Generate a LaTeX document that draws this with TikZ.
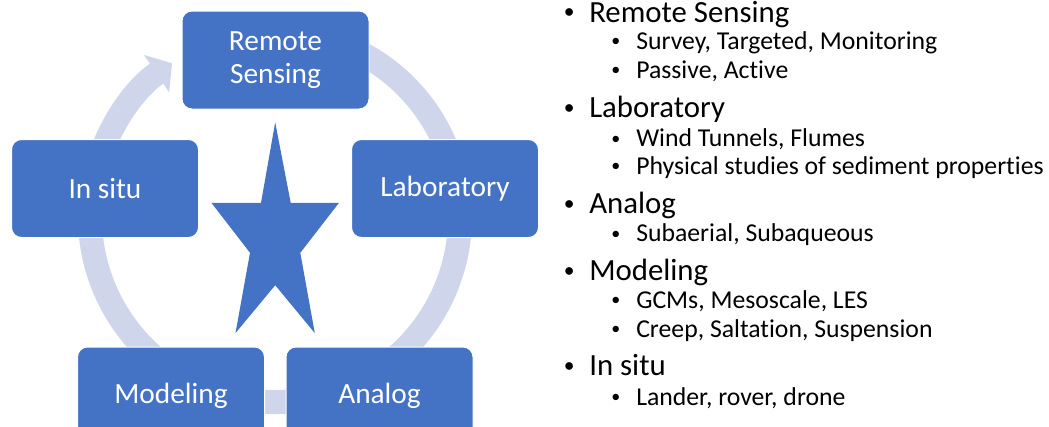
\documentclass[tikz,border=0pt]{standalone}
\usepackage{fontspec}
\setmainfont{Carlito}[Ligatures=NoCommon]
\usetikzlibrary{arrows.meta}
\definecolor{boxblue}{HTML}{4472C4}
\definecolor{ringblue}{HTML}{CFD5EA}

\begin{document}
\begin{tikzpicture}[x=0.75pt, y=-0.75pt,
    box/.style={draw=white, line width=0.75pt, fill=boxblue, rounded corners=7.5pt,
        minimum width=140.25pt, minimum height=73.5pt, inner sep=0pt,
        text=white, align=center, font=\fontsize{22}{24.5}\selectfont},
    ring/.style={draw=ringblue, line width=18pt, -{Triangle[length=14pt, width=33pt]}},
    lvlone/.style={anchor=base west, inner sep=0pt, font=\fontsize{23.1}{27}\selectfont,
        execute at begin node={\llap{\raisebox{0.1em}{\scalebox{0.7}{\textbullet}}\hspace{11pt}}}},
    lvltwo/.style={anchor=base west, inner sep=0pt, font=\fontsize{19.3}{23}\selectfont,
        execute at begin node={\llap{\raisebox{0.1em}{\scalebox{0.7}{\textbullet}}\hspace{12pt}}}}]
    \useasboundingbox (0,0) rectangle (1049,426);
    % Draw cycle ring
    \coordinate (ctr) at (275,217);
    \draw [ring] ([shift={(-75:185)}]ctr) arc [start angle=-75, end angle=236.2, radius=185];
    % Draw boxes
    \node [box] (rs) at (275.5,60) {Remote\\Sensing};
    \node [box] (lab) at (445,188.5) {Laboratory};
    \node [box] (ana) at (379.5,396) {Analog};
    \node [box] (mod) at (171,396) {Modeling};
    \node [box] (ins) at (105,188.5) {In situ};
    \fill [boxblue] (275.2,122.4) -- (290.7,202.8) -- (339,202.8) -- (300.3,252.8)
        -- (314.8,333.1) -- (275.2,285.2) -- (235.5,333.1) -- (250,252.8)
        -- (211.4,202.8) -- (261,202.8) -- cycle;
    % Draw list
    \node [lvlone] (lrs) at (589,22) {Remote Sensing};
    \node [lvltwo] (lrsa) at (636,49.3) {Survey, Targeted, Monitoring};
    \node [lvltwo] (lrsb) at (636,78.3) {Passive, Active};
    \node [lvlone] (llab) at (589,117.3) {Laboratory};
    \node [lvltwo] (llaba) at (636,146.7) {Wind Tunnels, Flumes};
    \node [lvltwo] (llabb) at (636,174.3) {Physical studies of sediment properties};
    \node [lvlone] (lana) at (589,213.3) {Analog};
    \node [lvltwo] (lanaa) at (636,241.7) {Subaerial, Subaqueous};
    \node [lvlone] (lmod) at (589,280.7) {Modeling};
    \node [lvltwo] (lmoda) at (636,308.3) {GCMs, Mesoscale, LES};
    \node [lvltwo] (lmodb) at (636,337.3) {Creep, Saltation, Suspension};
    \node [lvlone] (lins) at (589,375.7) {In situ};
    \node [lvltwo] (linsa) at (636,405) {Lander, rover, drone};
\end{tikzpicture}
\end{document}
